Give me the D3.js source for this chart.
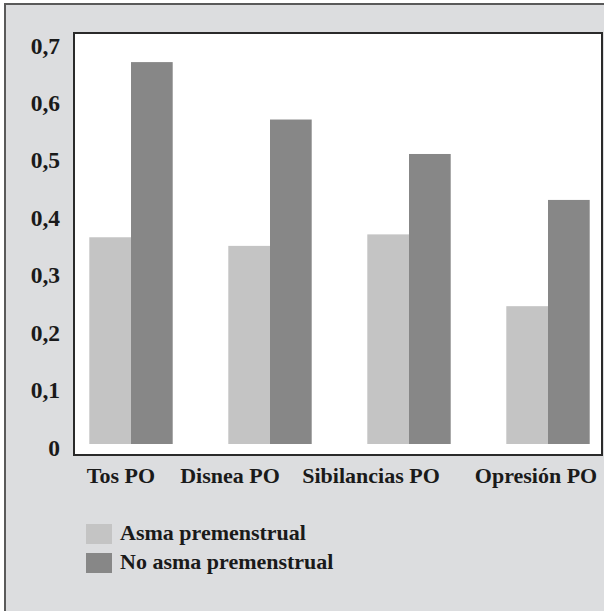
<!DOCTYPE html>
<html>
<head>
<meta charset="utf-8">
<script src="https://cdn.jsdelivr.net/npm/d3@7/dist/d3.min.js"></script>
<style>
  html, body { margin: 0; padding: 0; background: #ffffff; }
  svg { display: block; }
  text { font-family: "Liberation Serif", "DejaVu Serif", serif; font-weight: bold; fill: #1a1a1a; }
</style>
</head>
<body>
<svg id="chart" width="604" height="611"></svg>
<script>
// ---- data ----
const categories = ["Tos PO", "Disnea PO", "Sibilancias PO", "Opresión PO"];
const seriesNames = ["Asma premenstrual", "No asma premenstrual"];
const asmaPremenstrual = [0.36, 0.345, 0.365, 0.24];
const noAsmaPremenstrual = [0.665, 0.565, 0.505, 0.425];
const yTicks = [0, 0.1, 0.2, 0.3, 0.4, 0.5, 0.6, 0.7];
const yTickLabels = ["0", "0,1", "0,2", "0,3", "0,4", "0,5", "0,6", "0,7"];

// ---- layout ----
const colors = ["#c4c4c4", "#878787"];
const svg = d3.select("#chart");
const W = 604, H = 611;
const FS = 22;

// outer panel
svg.append("rect").attr("x", 5).attr("y", 4).attr("width", W + 10).attr("height", H + 10)
  .attr("fill", "#dcdddf").attr("stroke", "#5a5a5a").attr("stroke-width", 2);

const plot = { left: 74, right: 602, top: 33, bottom: 455 };
svg.append("rect").attr("x", plot.left).attr("y", plot.top)
  .attr("width", plot.right - plot.left).attr("height", plot.bottom - plot.top)
  .attr("fill", "#ffffff").attr("stroke", "#2a2a2a").attr("stroke-width", 2);

const y = d3.scaleLinear().domain([0, 0.7]).range([444, 42]);
const x = d3.scaleBand().domain(categories).range([61.5, 617.5]).paddingInner(0.4).paddingOuter(0.2);
const xs = d3.scaleBand().domain(seriesNames).range([0, x.bandwidth()]).padding(0);

const rows = categories.map((c, i) => ({ cat: c, vals: [asmaPremenstrual[i], noAsmaPremenstrual[i]] }));

const g = svg.append("g");
g.selectAll("g.grp").data(rows).join("g").attr("class", "grp")
  .attr("transform", d => `translate(${x(d.cat)},0)`)
  .selectAll("rect").data(d => d.vals.map((v, j) => ({ v, s: seriesNames[j], j })))
  .join("rect")
  .attr("x", d => xs(d.s))
  .attr("width", xs.bandwidth())
  .attr("y", d => y(d.v))
  .attr("height", d => y(0) - y(d.v))
  .attr("fill", d => colors[d.j]);

// y axis labels
const yAxis = d3.axisLeft(y).tickValues(yTicks).tickFormat((d, i) => yTickLabels[i]).tickSize(0).tickPadding(0);
const ya = svg.append("g").attr("transform", "translate(60,0)").call(yAxis);
ya.select(".domain").remove();
ya.selectAll("text").attr("font-size", 23.5).attr("font-family", "Liberation Serif, serif")
  .attr("font-weight", "bold").attr("fill", "#1a1a1a").attr("dy", 11).attr("text-anchor", "end");

// x axis labels
const labelDx = [-10, -40, -38, -12];
const xAxis = d3.axisBottom(x).tickSize(0).tickPadding(0);
const xa = svg.append("g").attr("transform", "translate(0,483)").call(xAxis);
xa.select(".domain").remove();
xa.selectAll("text").attr("font-size", FS).attr("font-family", "Liberation Serif, serif")
  .attr("font-weight", "bold").attr("fill", "#1a1a1a").attr("dy", 0)
  .attr("dx", (d, i) => labelDx[i]);

// legend
const leg = svg.append("g").attr("transform", "translate(86,524)");
const li = leg.selectAll("g").data(seriesNames).join("g")
  .attr("transform", (d, i) => `translate(0,${i * 29})`);
li.append("rect").attr("width", 26).attr("height", 20).attr("fill", (d, i) => colors[i]);
li.append("text").attr("x", 34).attr("y", 16).attr("font-size", FS).text(d => d);
</script>
</body>
</html>
